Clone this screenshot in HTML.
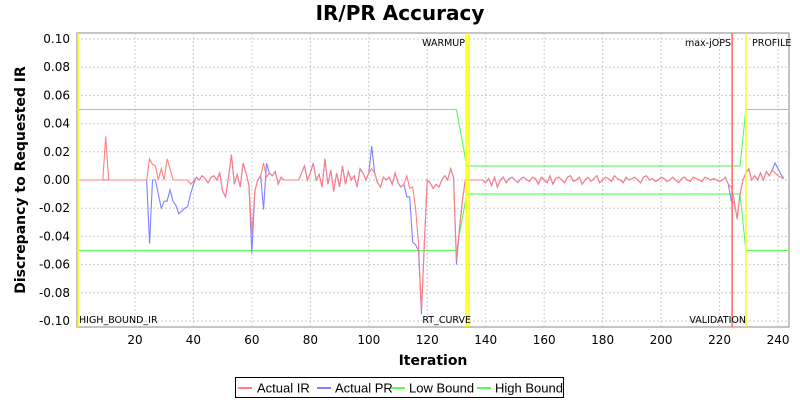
<!DOCTYPE html>
<html><head><meta charset="utf-8"><style>
body{margin:0;background:#fff;width:800px;height:400px;overflow:hidden;font-family:"DejaVu Sans","Liberation Sans",sans-serif}
svg text{font-family:"DejaVu Sans","Liberation Sans",sans-serif}
svg .lg{font-family:"Liberation Sans",sans-serif}
</style></head><body>
<svg id="chart" width="800" height="400" xmlns="http://www.w3.org/2000/svg">
<rect width="800" height="400" fill="#fff"/>
<text x="400" y="20" text-anchor="middle" font-size="20" font-weight="bold">IR/PR Accuracy</text>
<rect x="77" y="33" width="712" height="294" fill="#fff" stroke="#888"/>
<g id="grid"></g><g id="ticks"></g><g id="bounds"></g><g id="series"></g><g id="markers"></g>
<text x="433" y="365" text-anchor="middle" font-size="14" font-weight="bold">Iteration</text>
<text transform="translate(25,180) rotate(-90)" text-anchor="middle" font-size="14" font-weight="bold">Discrepancy to Requested IR</text>
<g>
<rect x="235.5" y="377.5" width="328" height="20" fill="#fff" stroke="#000"/>
<line x1="238" y1="388" x2="252" y2="388" stroke="#ff8080" stroke-width="2"/><text class="lg" x="257" y="392.5" font-size="13">Actual IR</text>
<line x1="317" y1="388" x2="331" y2="388" stroke="#8080ff" stroke-width="2"/><text class="lg" x="335" y="392.5" font-size="13">Actual PR</text>
<line x1="391" y1="388" x2="405" y2="388" stroke="#55ff55" stroke-width="2"/><text class="lg" x="409" y="392.5" font-size="13">Low Bound</text>
<line x1="477" y1="388" x2="491" y2="388" stroke="#55ff55" stroke-width="2"/><text class="lg" x="495" y="392.5" font-size="13">High Bound</text>
</g>
</svg>
<script>
const yTicks=[0.10,0.08,0.06,0.04,0.02,0.00,-0.02,-0.04,-0.06,-0.08,-0.10];
const xTicks=[20,40,60,80,100,120,140,160,180,200,220,240];
const mid=[0,0,0,0,0,0,-2,1,-4,2,-5,0,2,-2,1,2,0,-2,1,2,0,-1,2,1,-3,2,0,-2,3,-3,1,2,0,-2,2,3,-1,0,2,-3,0,2,-1,1,3,-2,0,2,1,-1,3,1,0,-2,2,0,1,2,0,-2,2,3,0,1,-1,0,2,1,-1,0,2,0,-2,1,2,0,-1,2,1,0,-1,2,1,0,1,0,-1,0,2];
const irVals=[0,0,0,0,0,0,0,0,0,31,0,0,0,0,0,0,0,0,0,0,0,0,0,0,
15,11,10,0,8,0,15,8,0,0,0,0,0,0,-3,
-1,2,0,3,1,-2,2,3,0,5,-8,-12,2,18,-3,4,-5,12,5,-4,-38,
-8,0,3,12,2,5,3,6,-3,2,0,0,0,0,0,0,5,10,0,5,
12,0,4,-5,15,-3,7,-8,5,-5,10,-3,6,0,3,-5,8,5,0,5,
8,5,-2,-5,2,0,2,-3,5,-2,-5,-3,3,-6,-5,-20,-45,-93,
-45,0,-2,-6,-3,-5,0,3,0,8,2,-57,-35,-15,0].concat(mid,
[-3,-5,-14,-28,-10,0,5,8,0,3,0,5,0,6,3,7,5,3,2,1]);
const prVals=[0,0,0,0,0,0,0,0,0,0,0,0,0,0,0,0,0,0,0,0,0,0,0,0,
-45,0,0,-10,-20,-15,-15,-7,-15,-18,-24,-22,-20,-19,-10,
-3,2,0,3,1,-2,2,3,0,5,-8,-12,2,18,-3,4,-5,12,5,-4,-52,
-8,0,3,-21,12,5,3,6,-3,2,0,0,0,0,0,0,5,10,0,5,
12,0,4,-5,15,-3,7,-8,5,-5,10,-3,6,0,3,-5,8,5,0,5,
24,5,-2,-5,2,0,2,-3,5,-2,-5,-3,-12,-12,-44,-46,-50,-95,
-45,0,-2,-6,-3,-5,0,3,0,8,2,-60,-35,-15,0].concat(mid,
[-3,-15,-16,-27,-10,0,5,8,0,3,0,5,0,6,3,7,12,8,4,1]);
const boundIter=[0,130,133.5,227,229,244];
const highBound=[0.05,0.05,0.01,0.01,0.05,0.05];
const lowBound=[-0.05,-0.05,-0.01,-0.01,-0.05,-0.05];
const markerIter=[0.5,133.3,134.3,224.3,229];
const markerColor=["#ffff00","#ffff00","#ffff00","#ff6666","#ffff00"];
const NS="http://www.w3.org/2000/svg";
const X=i=>76.5+i*2.923, Y=v=>180-v*1410;
function mk(tag,attrs,parent){const e=document.createElementNS(NS,tag);for(const k in attrs)e.setAttribute(k,attrs[k]);document.getElementById(parent).appendChild(e);return e;}
yTicks.forEach(v=>{
 const g=mk('line',{x1:77,x2:789,y1:Y(v),y2:Y(v),stroke:'#ccc','stroke-dasharray':'2,2'},'grid');
 
 
 const t=mk('text',{x:70,y:Y(v)+4,'text-anchor':'end','font-size':12},'ticks');t.textContent=v.toFixed(2);
 
 
});
xTicks.forEach(v=>{
 const g=mk('line',{x1:X(v),x2:X(v),y1:33,y2:327,stroke:'#ccc','stroke-dasharray':'2,2'},'grid');
 
 
 const t=mk('text',{x:X(v),y:344,'text-anchor':'middle','font-size':12},'ticks');t.textContent=v;
 
 
});
function poly(xs,ys,color,name){
 const p=mk('polyline',{points:xs.map((x,i)=>X(x)+','+Y(ys[i])).join(' '),fill:'none',stroke:color,'stroke-width':1.1},name.indexOf('bound')>=0?'bounds':'series');
 
 
}
poly(boundIter,highBound,'#55ff55','high-bound-line');
poly(boundIter,lowBound,'#55ff55','low-bound-line');
const it=prVals.map((_,i)=>i+1);
poly(it,prVals.map(v=>v/1000),'#8080ff','actual-pr-line');
poly(it,irVals.map(v=>v/1000),'#ff8080','actual-ir-line');
markerIter.forEach((m,i)=>{
 const l=mk('line',{x1:X(m),x2:X(m),y1:33,y2:327,stroke:markerColor[i],'stroke-width':1.5},'markers');
 
 
});
const labels=[["HIGH_BOUND_IR",79,323,'start'],["WARMUP",465,46,'end'],["RT_CURVE",471,323,'end'],["max-jOPS",731,46,'end'],["VALIDATION",746,323,'end'],["PROFILE",752,46,'start']];
labels.forEach(a=>{
 const t=mk('text',{x:a[1],y:a[2],'text-anchor':a[3],'font-size':9.5},'markers');t.textContent=a[0];
 
 
});
</script>
</body></html>
